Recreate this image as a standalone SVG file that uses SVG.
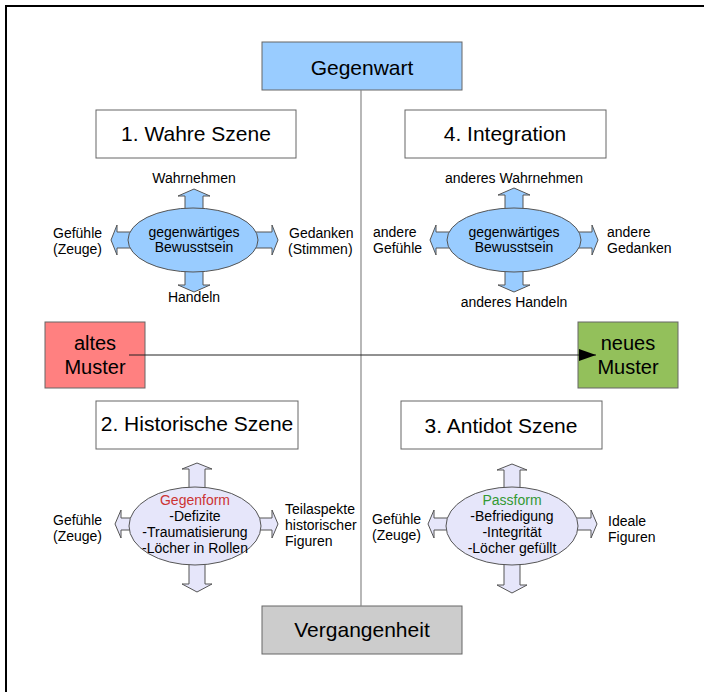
<svg xmlns="http://www.w3.org/2000/svg" width="704" height="692" viewBox="0 0 704 692">
<style>
text{font-family:"Liberation Sans",Arial,sans-serif;fill:#000}
.big{font-size:21px;text-anchor:middle}
.mid{font-size:20px;text-anchor:middle}
.sm{font-size:14px}
.c{text-anchor:middle}
.box{stroke:#666;stroke-width:1}
.arrB{fill:#99ccff;stroke:#555;stroke-width:1}
.arrL{fill:#e6e6fa;stroke:#555;stroke-width:1}
</style>
<defs>
<marker id="ah" markerWidth="18" markerHeight="12" refX="17" refY="6" orient="auto" markerUnits="userSpaceOnUse">
<path d="M0,0 L17,6 L0,12 z" fill="#000"/>
</marker>
</defs>
<rect width="704" height="692" fill="#fff"/>
<path d="M6,692 V6 H704" fill="none" stroke="#000" stroke-width="2"/>

<g id="gegenwart">
<rect x="262" y="42" width="200" height="48" fill="#99ccff" class="box"/>
<text x="362" y="75" class="big">Gegenwart</text>
</g>

<g id="wahre-szene">
<rect x="96" y="110" width="200" height="48" fill="#fff" class="box"/>
<text x="196" y="141" class="big">1. Wahre Szene</text>
</g>

<g id="integration">
<rect x="405" y="110" width="201" height="48" fill="#fff" class="box"/>
<text x="505" y="141" class="big">4. Integration</text>
</g>

<g id="bewusstsein-1">
<polygon class="arrB" points="194,189 210,196 203,196 203,232 272,232 272,225 278,240 272,255 272,248 203,248 203,285 210,285 194,292 178,285 185,285 185,248 117,248 117,255 111,240 117,225 117,232 185,232 185,196 178,196"/>
<ellipse cx="193" cy="240" rx="65" ry="32" fill="#99ccff" stroke="#555"/>
<text x="194" y="237" class="sm c">gegenwärtiges</text>
<text x="194" y="252" class="sm c">Bewusstsein</text>
<text x="194" y="183" class="sm c">Wahrnehmen</text>
<text x="194" y="302" class="sm c">Handeln</text>
<text x="53" y="238" class="sm">Gefühle</text>
<text x="53" y="254" class="sm">(Zeuge)</text>
<text x="289" y="238" class="sm">Gedanken</text>
<text x="288" y="254" class="sm">(Stimmen)</text>
</g>

<g id="bewusstsein-4">
<polygon class="arrB" points="514,188 530,195 523,195 523,232 592,232 592,225 598,240 592,255 592,248 523,248 523,285 530,285 514,292 498,285 505,285 505,248 436,248 436,255 430,240 436,225 436,232 505,232 505,195 498,195"/>
<ellipse cx="514" cy="240" rx="67" ry="32" fill="#99ccff" stroke="#555"/>
<text x="514" y="237" class="sm c">gegenwärtiges</text>
<text x="514" y="252" class="sm c">Bewusstsein</text>
<text x="514" y="183" class="sm c">anderes Wahrnehmen</text>
<text x="514" y="307" class="sm c">anderes Handeln</text>
<text x="373" y="237" class="sm">andere</text>
<text x="373" y="253" class="sm">Gefühle</text>
<text x="607" y="237" class="sm">andere</text>
<text x="607" y="253" class="sm">Gedanken</text>
</g>

<g id="altes-muster">
<rect x="45" y="322" width="100" height="66" fill="#ff8080" class="box"/>
<text x="95" y="350" class="mid">altes</text>
<text x="95" y="374" class="mid">Muster</text>
</g>

<g id="neues-muster">
<rect x="578" y="322" width="100" height="66" fill="#93c05b" class="box"/>
<text x="628" y="350" class="mid">neues</text>
<text x="628" y="374" class="mid">Muster</text>
</g>

<g id="historische-szene">
<rect x="96" y="401" width="202" height="48" fill="#fff" class="box"/>
<text x="197" y="431" class="big">2. Historische Szene</text>
</g>

<g id="antidot-szene">
<rect x="401" y="401" width="201" height="48" fill="#fff" class="box"/>
<text x="501" y="433" class="big">3. Antidot Szene</text>
</g>

<g id="gegenform">
<polygon class="arrL" points="197,463 212,469 205,469 205,518 272,518 272,510 278,524 272,538 272,530 205,530 205,584 212,584 197,592 182,584 189,584 189,530 121,530 121,538 115,524 121,510 121,518 189,518 189,469 182,469"/>
<ellipse cx="195" cy="526" rx="66" ry="39" fill="#e6e6fa" stroke="#555"/>
<text x="195" y="505" class="sm c" style="fill:#cc3333">Gegenform</text>
<text x="195" y="521" class="sm c">-Defizite</text>
<text x="195" y="537" class="sm c">-Traumatisierung</text>
<text x="195" y="553" class="sm c">-Löcher in Rollen</text>
<text x="53" y="525" class="sm">Gefühle</text>
<text x="53" y="541" class="sm">(Zeuge)</text>
<text x="285" y="514" class="sm">Teilaspekte</text>
<text x="285" y="530" class="sm">historischer</text>
<text x="285" y="546" class="sm">Figuren</text>
</g>

<g id="passform">
<polygon class="arrL" points="512,464 527,470 520,470 520,518 591,518 591,510 597,524 591,538 591,530 520,530 520,585 527,585 512,593 497,585 504,585 504,530 434,530 434,538 428,524 434,510 434,518 504,518 504,470 497,470"/>
<ellipse cx="512" cy="526" rx="66" ry="39" fill="#e6e6fa" stroke="#555"/>
<text x="512" y="505" class="sm c" style="fill:#339933">Passform</text>
<text x="512" y="521" class="sm c">-Befriedigung</text>
<text x="512" y="537" class="sm c">-Integrität</text>
<text x="512" y="553" class="sm c">-Löcher gefüllt</text>
<text x="372" y="524" class="sm">Gefühle</text>
<text x="372" y="540" class="sm">(Zeuge)</text>
<text x="608" y="526" class="sm">Ideale</text>
<text x="608" y="542" class="sm">Figuren</text>
</g>

<g id="vergangenheit">
<rect x="262" y="606" width="200" height="48" fill="#cccccc" class="box"/>
<text x="362" y="637" class="big">Vergangenheit</text>
</g>

<g id="connectors">
<line x1="361" y1="90" x2="361" y2="606" stroke="#888" stroke-width="1.2"/>
<line x1="129" y1="355" x2="596" y2="355" stroke="#222" stroke-width="1" marker-end="url(#ah)"/>
</g>
</svg>
